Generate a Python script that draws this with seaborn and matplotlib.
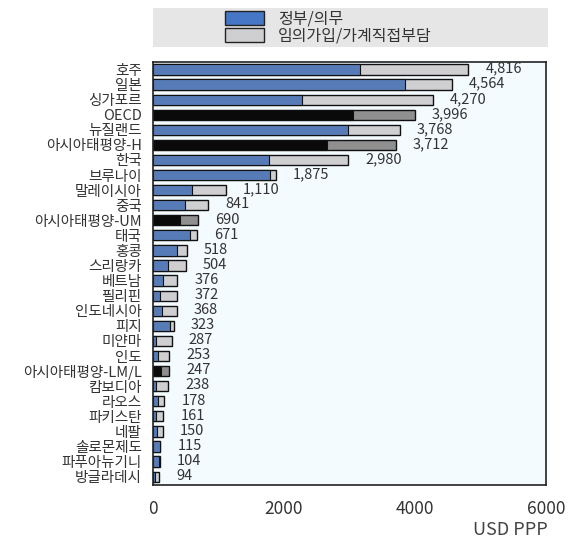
import matplotlib
matplotlib.use("Agg")
import matplotlib.pyplot as plt
import matplotlib.patches as mpatches
import seaborn as sns
import pandas as pd

sns.set_theme(style="white")
plt.rcParams["font.family"] = ["Noto Sans CJK KR", "DejaVu Sans"]

# Per-capita health expenditure (USD PPP)
countries = ["호주", "일본", "싱가포르", "OECD", "뉴질랜드", "아시아태평양-H", "한국", "브루나이",
             "말레이시아", "중국", "아시아태평양-UM", "태국", "홍콩", "스리랑카", "베트남", "필리핀",
             "인도네시아", "피지", "미얀마", "인도", "아시아태평양-LM/L", "캄보디아", "라오스",
             "파키스탄", "네팔", "솔로몬제도", "파푸아뉴기니", "방글라데시"]
totals = [4816, 4564, 4270, 3996, 3768, 3712, 2980, 1875, 1110, 841, 690, 671, 518, 504,
          376, 372, 368, 323, 287, 253, 247, 238, 178, 161, 150, 115, 104, 94]
government = [3160, 3850, 2275, 3050, 2980, 2655, 1770, 1790, 595, 490, 410, 565, 365, 230,
              150, 110, 140, 260, 50, 80, 120, 50, 80, 50, 60, 105, 90, 35]
aggregates = ["OECD", "아시아태평양-H", "아시아태평양-UM", "아시아태평양-LM/L"]
legend_labels = ["정부/의무", "임의가입/가계직접부담"]

BLUE = "#4677c6"
LIGHT = "#cfcfd1"
DARK = "#0a0a0a"
DARKGRAY = "#8f8f8f"
TEXT = "#333333"

df = pd.DataFrame({"country": countries, "total": totals, "gov": government})
front_pal = {c: (DARK if c in aggregates else BLUE) for c in countries}
back_pal = {c: (DARKGRAY if c in aggregates else LIGHT) for c in countries}

fig = plt.figure(figsize=(5.68, 5.48), dpi=100)
ax = fig.add_axes([0.269, 0.115, 0.692, 0.772])
ax.set_facecolor("#f4fbff")

sns.barplot(data=df, x="total", y="country", hue="country", palette=back_pal,
            legend=False, width=0.68, edgecolor="#111111", linewidth=1.0, ax=ax)
sns.barplot(data=df, x="gov", y="country", hue="country", palette=front_pal,
            legend=False, width=0.68, edgecolor="#111111", linewidth=0.8, ax=ax)

for i, v in enumerate(totals):
    ax.text(v + 260, i - 0.05, f"{v:,}", va="center", ha="left", fontsize=10.5, color=TEXT)

ax.set_xlim(0, 6000)
ax.set_ylim(len(countries) - 0.45, -0.5)
ax.set_xticks([0, 2000, 4000, 6000])
ax.set_xticklabels(["0", "2000", "4000", "6000"], fontsize=12.5, color=TEXT)
ax.set_yticks(range(len(countries)))
ax.set_yticklabels(countries, fontsize=10.5, color=TEXT)
ax.set_xlabel("")
ax.set_ylabel("")
ax.tick_params(axis="x", direction="in", length=4, pad=11, color=TEXT)
ax.tick_params(axis="y", length=0, pad=8)
for s in ax.spines.values():
    s.set_color("#222222")
    s.set_linewidth(1.2)

fig.text(0.965, 0.032, "USD PPP", ha="right", va="center", fontsize=13, color="#444444")

# Legend band above the plot
band = mpatches.Rectangle((0.269, 0.914), 0.696, 0.072, transform=fig.transFigure,
                          facecolor="#e6e6e6", edgecolor="none")
fig.patches.append(band)
handles = [mpatches.Patch(facecolor=BLUE, edgecolor="#222222", label=legend_labels[0]),
           mpatches.Patch(facecolor=LIGHT, edgecolor="#222222", label=legend_labels[1])]
fig.legend(handles=handles, loc="center left", bbox_to_anchor=(0.38, 0.95), frameon=False,
           fontsize=11.5, handlelength=2.4, handleheight=0.9, labelspacing=0.0,
           handletextpad=0.9, borderpad=0.1, labelcolor=TEXT)

fig.savefig("out.png", dpi=100)
